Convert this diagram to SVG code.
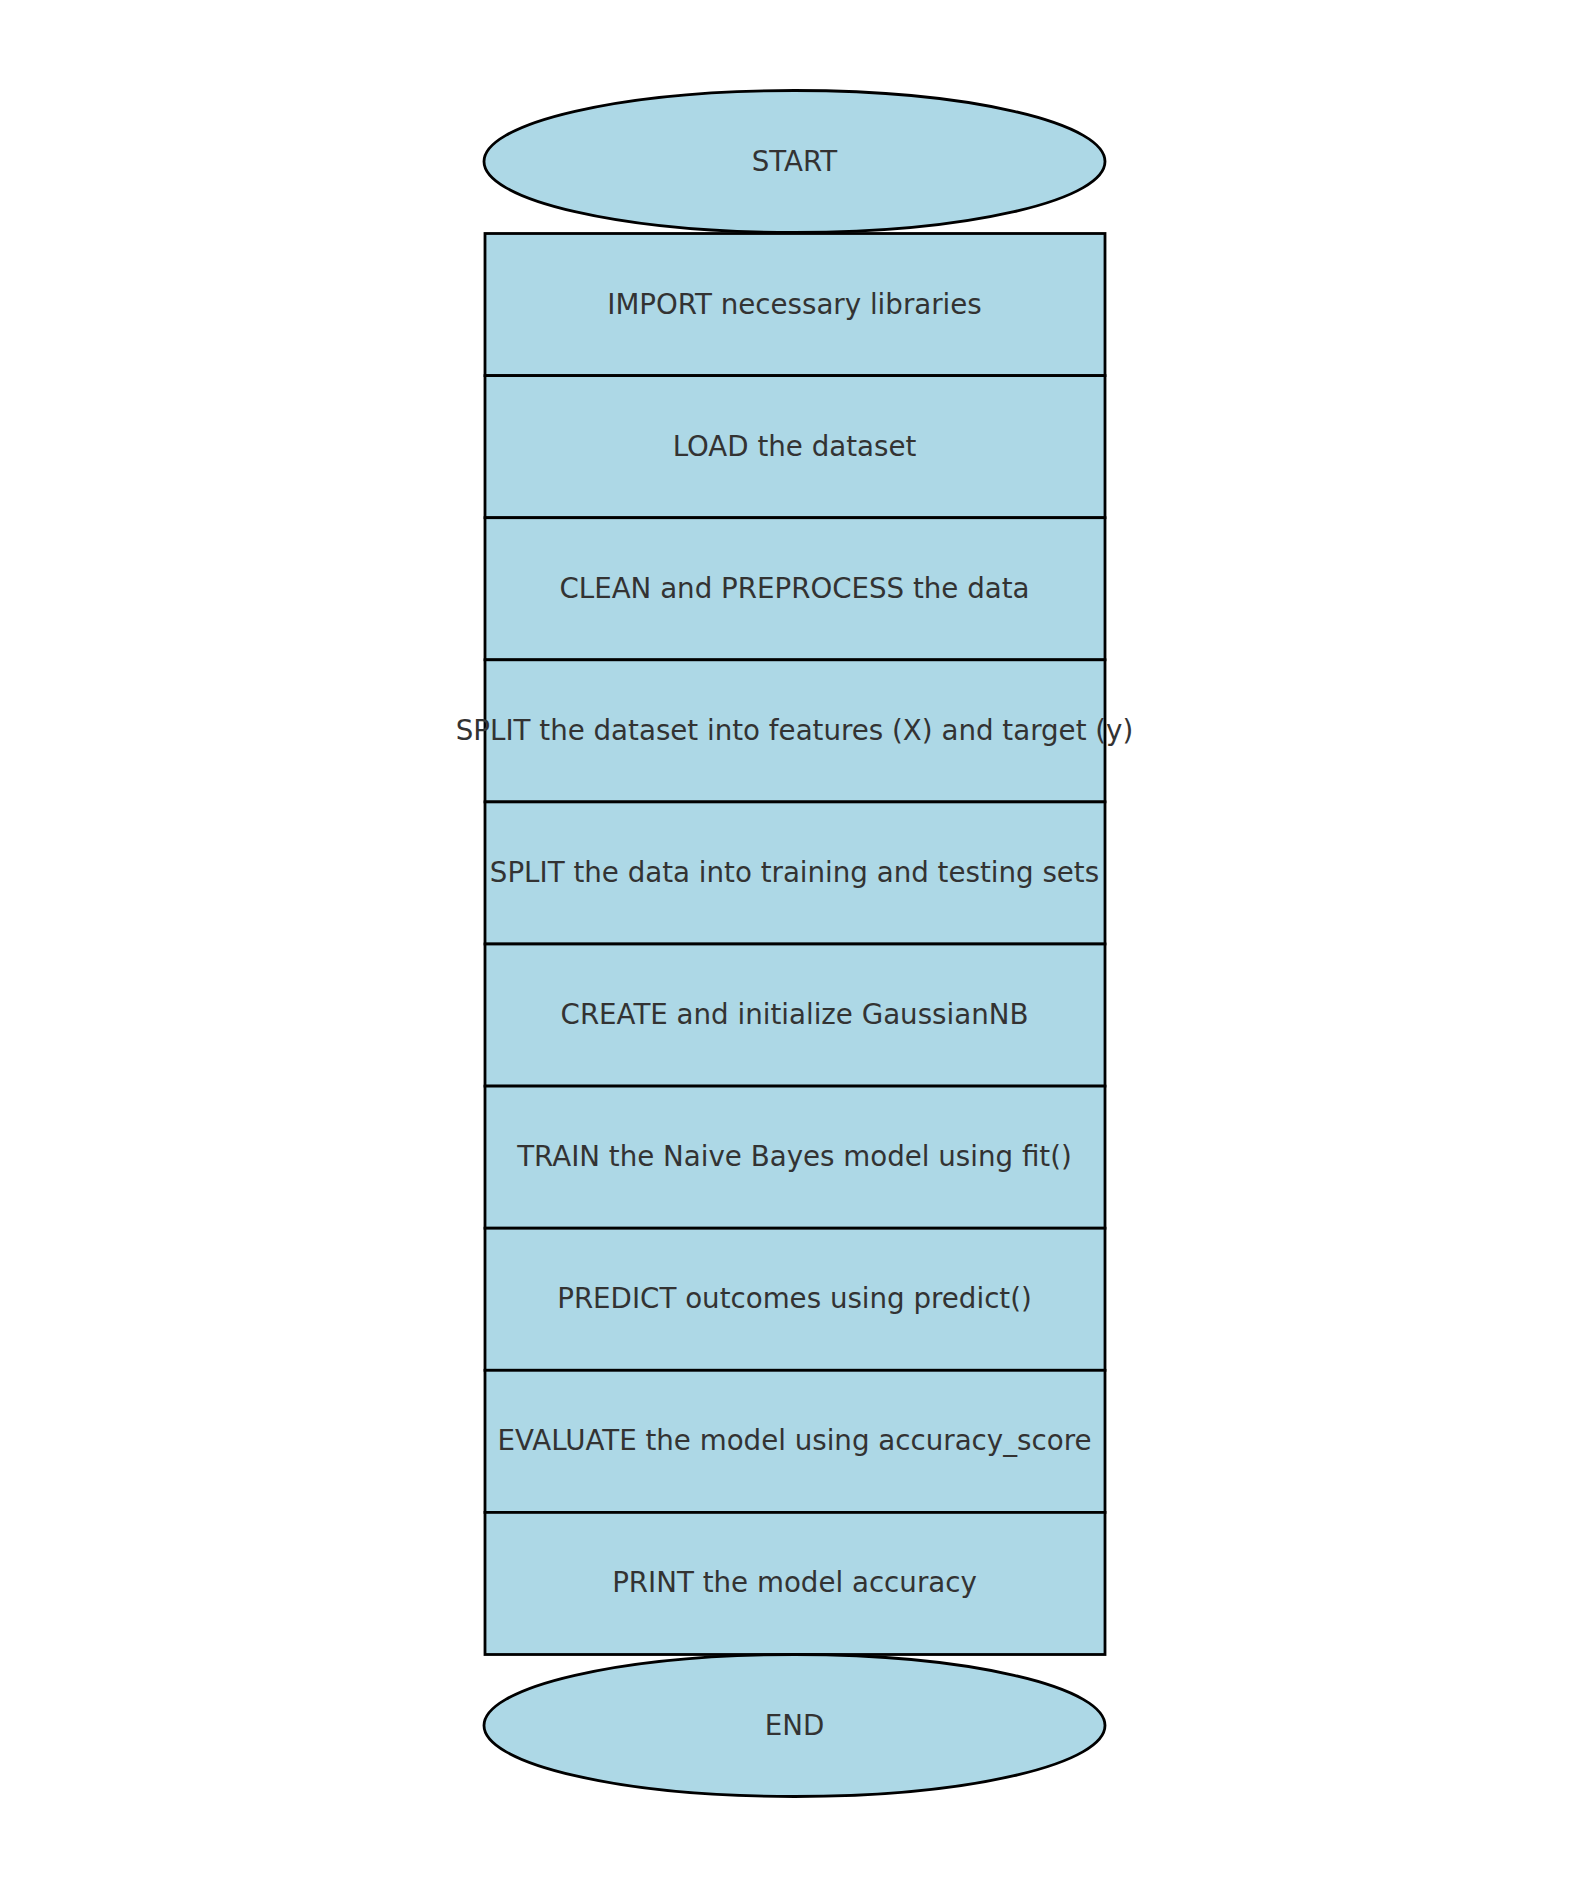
<svg xmlns="http://www.w3.org/2000/svg" width="1589" height="1888" viewBox="0 0 1589 1888">
<style>
.n{fill:#ADD8E6;stroke:#000;stroke-width:2.8}
.t{font-family:"DejaVu Sans",sans-serif;font-size:27.7px;fill:#333;text-anchor:middle}
.c{stroke:#000;stroke-width:1;fill:none}
</style>
<rect width="1589" height="1888" fill="#fff"/>
<g id="connectors">
<line class="c" x1="794.5" y1="656.5" x2="794.5" y2="658"/>
<line class="c" x1="794.5" y1="798.5" x2="794.5" y2="800"/>
</g>
<g id="start"><ellipse class="n" cx="794.5" cy="161.5" rx="310.5" ry="71"/><text class="t" x="794.5" y="170.5">START</text></g>
<g id="step1"><rect class="n" x="485" y="233.5" width="620" height="142.1"/><text class="t" x="794.5" y="313.5">IMPORT necessary libraries</text></g>
<g id="step2"><rect class="n" x="485" y="375.6" width="620" height="142.1"/><text class="t" x="794.5" y="455.6">LOAD the dataset</text></g>
<g id="step3"><rect class="n" x="485" y="517.7" width="620" height="142.1"/><text class="t" x="794.5" y="597.7">CLEAN and PREPROCESS the data</text></g>
<g id="step4"><rect class="n" x="485" y="659.8" width="620" height="142.1"/><text class="t" x="794.5" y="739.8">SPLIT the dataset into features (X) and target (y)</text></g>
<g id="step5"><rect class="n" x="485" y="801.9" width="620" height="142.1"/><text class="t" x="794.5" y="881.9">SPLIT the data into training and testing sets</text></g>
<g id="step6"><rect class="n" x="485" y="944" width="620" height="142.1"/><text class="t" x="794.5" y="1024">CREATE and initialize GaussianNB</text></g>
<g id="step7"><rect class="n" x="485" y="1086.1" width="620" height="142.1"/><text class="t" x="794.5" y="1166.1">TRAIN the Naive Bayes model using fit()</text></g>
<g id="step8"><rect class="n" x="485" y="1228.2" width="620" height="142.1"/><text class="t" x="794.5" y="1308.2">PREDICT outcomes using predict()</text></g>
<g id="step9"><rect class="n" x="485" y="1370.3" width="620" height="142.1"/><text class="t" x="794.5" y="1450.3">EVALUATE the model using accuracy_score</text></g>
<g id="step10"><rect class="n" x="485" y="1512.4" width="620" height="142.1"/><text class="t" x="794.5" y="1592.4">PRINT the model accuracy</text></g>
<g id="end"><ellipse class="n" cx="794.5" cy="1725.5" rx="310.5" ry="71"/><text class="t" x="794.5" y="1734.5">END</text></g>
</svg>
